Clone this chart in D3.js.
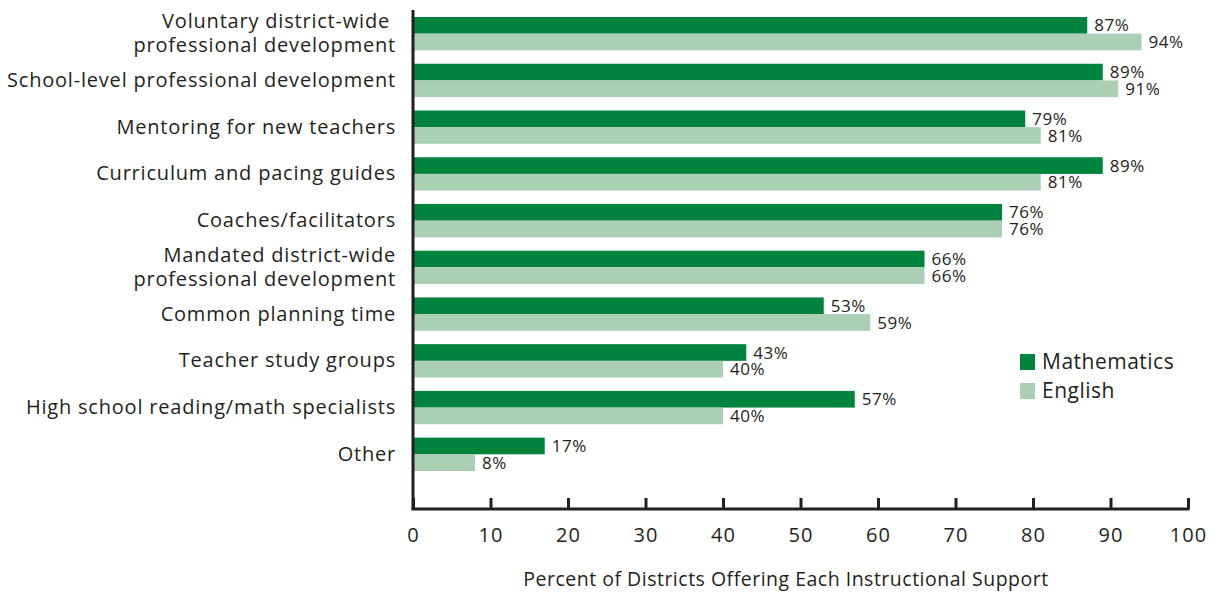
<!DOCTYPE html>
<html><head><meta charset="utf-8">
<script src="https://cdn.jsdelivr.net/npm/d3@7"></script>
<style>body{margin:0;background:#fff}svg{display:block}text{font-family:"Open Sans",sans-serif;fill:#231f20}</style>
</head><body><svg id="c" width="1217" height="592"></svg>
<script>
const categories = [
  ["Voluntary district-wide ", "professional development"],
  ["School-level professional development"],
  ["Mentoring for new teachers"],
  ["Curriculum and pacing guides"],
  ["Coaches/facilitators"],
  ["Mandated district-wide", "professional development"],
  ["Common planning time"],
  ["Teacher study groups"],
  ["High school reading/math specialists"],
  ["Other"]
];
const mathematics = [87, 89, 79, 89, 76, 66, 53, 43, 57, 17];
const english = [94, 91, 81, 81, 76, 66, 59, 40, 40, 8];
const seriesNames = ["Mathematics", "English"];
const xTicks = [0,10,20,30,40,50,60,70,80,90,100];
const colors = ["#00843d", "#aacfb4"];

const svg = d3.select("#c");
const x = d3.scaleLinear().domain([0,100]).range([413,1188]);
const idx = d3.range(categories.length);
const y = d3.scaleBand().domain(idx).range([10,478]).paddingInner(0.286).paddingOuter(0.15);
const sub = d3.scaleBand().domain([0,1]).range([0,y.bandwidth()]);

const series = [mathematics, english];
series.forEach((vals, s) => {
  svg.append("g").selectAll("rect").data(idx).join("rect")
    .attr("x", x(0)).attr("y", i => y(i) + sub(s))
    .attr("width", i => x(vals[i]) - x(0)).attr("height", sub.bandwidth())
    .attr("fill", colors[s]);
  svg.append("g").selectAll("text").data(idx).join("text")
    .attr("x", i => x(vals[i]) + 7).attr("y", i => y(i) + sub(s) + sub.bandwidth()/2)
    .attr("dy", "0.36em").style("font-size", "17px").style("letter-spacing", "0.5px")
    .text(i => vals[i] + "%");
});

// category labels
const lab = svg.append("g");
idx.forEach(i => {
  const lines = categories[i];
  const cy = y(i) + y.bandwidth()/2;
  const lh = 24;
  lines.forEach((t, k) => {
    lab.append("text").attr("x", 396).attr("text-anchor", "end")
      .attr("y", cy + (k - (lines.length-1)/2) * lh).attr("dy", "0.32em")
      .style("font-size", "20px").style("letter-spacing", "0.8px").style("white-space", "pre").text(t);
  });
});

// axes
const axY = 509;
svg.append("line").attr("x1", 413).attr("x2", 413).attr("y1", 10).attr("y2", axY+1)
  .attr("stroke", "#231f20").attr("stroke-width", 3);
const xa = svg.append("g").attr("transform", `translate(0,${axY})`)
  .call(d3.axisBottom(x).tickValues(xTicks).tickSize(-11).tickPadding(19).tickFormat(d3.format("d")));
xa.select(".domain").attr("stroke", "#231f20").attr("stroke-width", 3).attr("d", `M${x(0)-1.5},0H${x(100)+1.5}`);
xa.selectAll(".tick line").attr("stroke", "#231f20").attr("stroke-width", 3);
xa.selectAll(".tick text").style("font-size", "20px").style("letter-spacing", "1px").attr("fill", "#231f20").attr("dy", "0.71em").style("font-family", '"Open Sans",sans-serif');

svg.append("text").attr("x", 786).attr("y", 579).attr("text-anchor", "middle")
  .attr("dy", "0.35em").style("font-size", "19.5px").style("letter-spacing", "0.5px")
  .text("Percent of Districts Offering Each Instructional Support");

// legend
const lg = svg.append("g");
seriesNames.forEach((n, s) => {
  lg.append("rect").attr("x", 1020).attr("y", 354 + s*29).attr("width", 15).attr("height", 16).attr("fill", colors[s]);
  lg.append("text").attr("x", 1042).attr("y", 362 + s*29).attr("dy", "0.35em").style("font-size", "21px").style("letter-spacing", "0.5px").text(n);
});
</script></body></html>
